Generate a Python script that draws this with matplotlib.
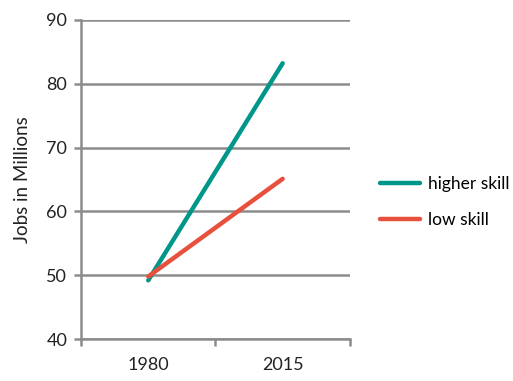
import matplotlib.pyplot as plt
from matplotlib.ticker import FixedLocator, NullFormatter

plt.rcParams['font.family'] = ['Lato', 'DejaVu Sans']

years = ['1980', '2015']
higher_skill = [49.2, 83.2]
low_skill = [49.8, 65.1]

TEAL = '#00968a'
RED = '#e8503e'
GRID = '#8c8c8c'
TEXT = '#222222'

fig = plt.figure(figsize=(5.13, 3.81), dpi=100)
ax = fig.add_axes([0.158, 0.110, 0.524, 0.838])

x = [i + 0.5 for i in range(len(years))]
ax.plot(x, higher_skill, color=TEAL, lw=3.2, solid_capstyle='round', label='higher skill', zorder=3)
ax.plot(x, low_skill, color=RED, lw=3.2, solid_capstyle='round', label='low skill', zorder=4)

ax.set_xlim(0, len(years))
ax.set_ylim(40, 90)
ax.set_yticks(range(40, 91, 10))
ax.yaxis.grid(True, color=GRID, lw=1.8)
ax.set_axisbelow(True)

# category boundaries get the tick marks, labels sit in the middle
ax.xaxis.set_major_locator(FixedLocator(range(len(years) + 1)))
ax.xaxis.set_major_formatter(NullFormatter())
ax.xaxis.set_minor_locator(FixedLocator(x))
ax.set_xticklabels(years, minor=True)
ax.tick_params(axis='x', which='minor', length=0, pad=13, labelsize=13, colors=TEXT)
ax.tick_params(axis='x', which='major', length=5, width=1.8, color=GRID)
ax.tick_params(axis='y', length=5, width=1.8, color=GRID, labelsize=13, labelcolor=TEXT, pad=5)

for side in ['top', 'right']:
    ax.spines[side].set_visible(False)
for side in ['left', 'bottom']:
    ax.spines[side].set_color(GRID)
    ax.spines[side].set_linewidth(1.8)

ax.set_ylabel('Jobs in Millions', fontsize=13.5, color=TEXT, labelpad=11)

fig.legend(loc='center left', bbox_to_anchor=(0.741, 0.470), frameon=False,
           fontsize=12.5, handlelength=2.3, handletextpad=0.46, labelspacing=1.15,
           borderpad=0, borderaxespad=0)

fig.savefig('out.png', dpi=100)
